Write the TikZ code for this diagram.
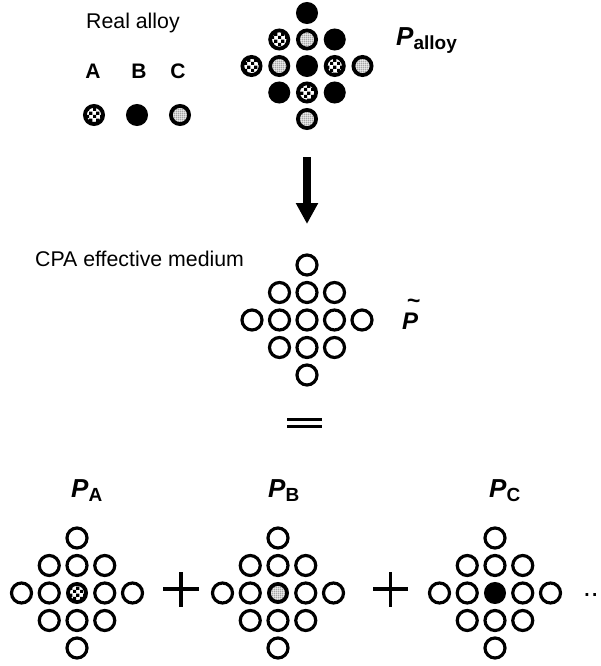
\documentclass[tikz,border=0pt]{standalone}
\usepackage{fontspec}
\setmainfont{Liberation Sans}
\usetikzlibrary{patterns,patterns.meta,arrows.meta}

\tikzdeclarepattern{
  name=chk, type=uncolored,
  bounding box={(0pt,0pt) and (6.6pt,6.6pt)},
  tile size={(6.6pt,6.6pt)},
  code={\fill (0pt,0pt) rectangle (3.3pt,3.3pt); \fill (3.3pt,3.3pt) rectangle (6.6pt,6.6pt);}
}
\tikzdeclarepattern{
  name=stp, type=uncolored,
  bounding box={(0pt,0pt) and (2.3pt,2.3pt)},
  tile size={(2.3pt,2.3pt)},
  code={\fill (1.15pt,1.15pt) circle (0.72pt);}
}

\newcommand\Psym[1]{{\fontsize{26}{30}\selectfont\bfseries\itshape P}{\fontsize{19}{21}\selectfont\bfseries\raisebox{-4pt}{#1}}}

\tikzset{
  atom/.style={circle, inner sep=0pt, minimum size=18.2pt, line width=3.8pt, draw=black},
  atA/.style={atom, pattern=chk},
  atB/.style={atom, fill=black},
  atC/.style={atom, pattern=stp},
  site/.style={circle, inner sep=0pt, minimum size=20pt, line width=3.2pt, draw=black},
  txt/.style={inner sep=0pt, font=\fontsize{21.3}{25}\selectfont},
  lbl/.style={inner sep=0pt, font=\fontsize{21}{25}\selectfont\bfseries},
  plabel/.style={inner sep=0pt, anchor=base west},
  bar/.style={line width=3.4pt},
  thinbar/.style={line width=3.2pt},
}

\def\ring{0/-2,-1/-1,0/-1,1/-1,-2/0,-1/0,1/0,2/0,-1/1,0/1,1/1,0/2}

\begin{document}
\begin{tikzpicture}[x=1pt,y=-1pt]
\useasboundingbox[fill=white] (0,0) rectangle (600,666);

% Real alloy legend
\node[txt, anchor=base west] (ra) at (86,29) {Real alloy};
\node[lbl, anchor=base] (lA) at (93,79) {A};
\node[lbl, anchor=base] (lB) at (139,79) {B};
\node[lbl, anchor=base] (lC) at (178,79) {C};
\node[atA] (aA) at (94,115) {};
\node[atB] (aB) at (137,115) {};
\node[atC] (aC) at (180,115) {};

% alloy lattice
\foreach \i/\j/\s [count=\n] in {0/-2/atB, -1/-1/atA, 0/-1/atC, 1/-1/atB,
   -2/0/atA, -1/0/atC, 0/0/atB, 1/0/atA, 2/0/atC,
   -1/1/atB, 0/1/atA, 1/1/atB, 0/2/atC}
  \node[\s] (al\n) at ({307+27.75*\i},{66+26.5*\j}) {};
\node[plabel] (Palloy) at (396,46) {\Psym{alloy}};

% arrow
\coordinate (arrS) at (307,157);
\coordinate (arrE) at (307,224);
\draw[line width=8pt, -{Triangle[length=21pt,width=21pt]}] (arrS) -- (arrE);

% CPA medium
\node[txt, anchor=base west] (cpa) at (35,266) {CPA effective medium};
\node[site] (m0) at (307,320) {};
\foreach \i/\j [count=\n] in \ring
  \node[site] (m\n) at ({307+27.5*\i},{320+27.5*\j}) {};
\node[plabel] (Pt) at (402,329) {\fontsize{24}{28}\selectfont\bfseries\itshape
  \makebox[0pt][l]{\hspace{4.5pt}\raisebox{20.5pt}{\fontsize{23}{24}\selectfont\textasciitilde}}P};

% equals
\coordinate (eqL1) at (287,419.5); \coordinate (eqR1) at (322,419.5);
\coordinate (eqL2) at (287,426.7); \coordinate (eqR2) at (322,426.7);
\draw[bar] (eqL1) -- (eqR1);
\draw[bar] (eqL2) -- (eqR2);

% bottom lattices
\node[atA] (a0) at (77,593) {};
\foreach \i/\j [count=\n] in \ring
  \node[site] (a\n) at ({77+27.75*\i},{593+27.5*\j}) {};
\node[atC] (b0) at (278,593) {};
\foreach \i/\j [count=\n] in \ring
  \node[site] (b\n) at ({278+27.75*\i},{593+27.5*\j}) {};
\node[atB] (c0) at (495,593) {};
\foreach \i/\j [count=\n] in \ring
  \node[site] (c\n) at ({495+27.75*\i},{593+27.5*\j}) {};

\node[plabel] (PA) at (71,497) {\Psym{A}};
\node[plabel] (PB) at (268,497) {\Psym{B}};
\node[plabel] (PC) at (489,497) {\Psym{C}};

% plus signs
\coordinate (p1l) at (163,589); \coordinate (p1r) at (199,589);
\coordinate (p1t) at (181,572); \coordinate (p1b) at (181,607);
\draw[thinbar] (p1l) -- (p1r); \draw[thinbar] (p1t) -- (p1b);
\coordinate (p2l) at (373,589); \coordinate (p2r) at (408,589);
\coordinate (p2t) at (390.5,572); \coordinate (p2b) at (390.5,607);
\draw[thinbar] (p2l) -- (p2r); \draw[thinbar] (p2t) -- (p2b);

% dots
\node[inner sep=0pt, anchor=base west, font=\fontsize{28}{30}\selectfont] (dots) at (583,596) {..};
\end{tikzpicture}
\end{document}
